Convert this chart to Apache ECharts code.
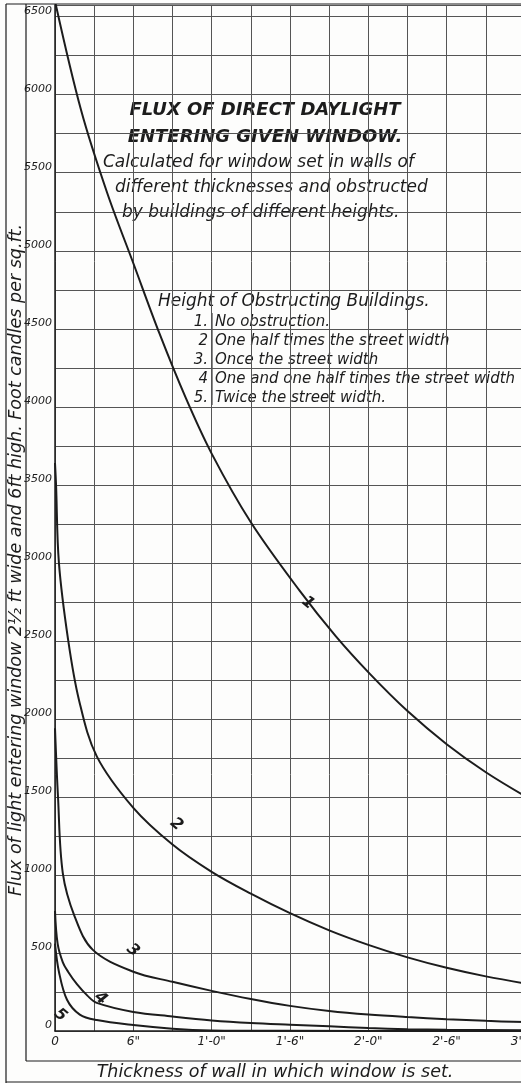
<!DOCTYPE html>
<html>
<head>
<meta charset="utf-8">
<script src="https://cdn.jsdelivr.net/npm/echarts@6/dist/echarts.min.js"></script>
<style>
  html, body { margin: 0; padding: 0; background: #fdfdfc; overflow: hidden; }
  #chart { width: 530px; height: 1083px; }
</style>
</head>
<body>
<div id="chart"></div>
<script>
// wall thickness (inches) , flux (foot candles per sq.ft.)
const curve1 = [[0, 6600], [2, 5900], [4, 5370], [6, 4920], [8, 4470], [10, 4060], [12, 3700], [15, 3260], [18.75, 2820], [21.5, 2530], [24.1, 2290], [27, 2050], [30, 1838], [33, 1658], [36, 1505]];
const curve2 = [[0, 3640], [0.08, 3500], [0.3, 3000], [1.0, 2510], [1.84, 2120], [3.2, 1760], [6, 1430], [9, 1195], [12, 1020], [15, 880], [18, 755], [21, 645], [24, 552], [27, 472], [30, 405], [33, 350], [36, 305]];
const curve3 = [[0, 1940], [0.23, 1500], [0.6, 1010], [1.5, 735], [2.9, 520], [6, 380], [9, 315], [12, 257], [15, 205], [18, 161], [21, 128], [24, 105], [27, 89], [30, 76], [33, 65], [36, 57]];
const curve4 = [[0, 770], [0.2, 560], [0.6, 440], [1.0, 380], [1.68, 300], [2.5, 225], [3.2, 180], [6, 122], [9, 93], [12, 68], [15, 51], [18, 40], [21, 30], [24, 19], [27, 12], [30, 8], [36, 5]];
const curve5 = [[0, 560], [0.3, 380], [0.92, 200], [1.9, 105], [3.2, 70], [6, 38], [9, 15], [12, 4], [18, 1], [36, 0]];
const curveNames = ['1', '2', '3', '4', '5'];
const labelAt = [8, 7, 5, 6, 2]; // which point of each curve carries its number

const xTickLabels = { 0: '0', 6: '6"', 12: "1'-0\"", 18: "1'-6\"", 24: "2'-0\"", 30: "2'-6\"", 36: "3'-0\"" };
const legendNums = ['1.', '2', '3.', '4', '5.'];
const legendTexts = ['No obstruction.', 'One half times the street width', 'Once the street width', 'One and one half times the street width', 'Twice the street width.'];
const titleLines = ['FLUX OF DIRECT DAYLIGHT', 'ENTERING GIVEN WINDOW.'];
const noteLines = ['Calculated for window set in walls of', 'different thicknesses and obstructed', 'by buildings of different heights.'];

const FONT = '"DejaVu Sans", sans-serif';
const INK = '#1c1c1c';

const chart = echarts.init(document.getElementById('chart'));

// 曲线上的数字位置微调
const labelOffsets = [[14, 4], [-10, -18], [-14, -16], [0, -6], [5, 16]];

const curves = [curve1, curve2, curve3, curve4, curve5];
const series = curves.map((c, i) => ({
  type: 'line',
  data: c,
  smooth: 0.35,
  symbol: 'none',
  clip: true,
  lineStyle: { color: INK, width: 2 },
  markPoint: {
    symbol: 'circle',
    symbolSize: 1,
    itemStyle: { color: 'rgba(0,0,0,0)' },
    label: {
      show: true,
      position: 'inside',
      formatter: curveNames[i],
      offset: labelOffsets[i],
      rotate: -40,
      fontFamily: FONT,
      fontSize: 16,
      fontStyle: 'italic',
      fontWeight: 'bold',
      color: INK
    },
    data: [{ coord: c[labelAt[i]] }]
  }
}));

// 文字部分
const graphic = [];
const line = (x1, y1, x2, y2, w) => graphic.push({
  type: 'line', shape: { x1, y1, x2, y2 }, style: { stroke: INK, lineWidth: w || 1.2 }, silent: true
});
// frame
line(6, 4, 6, 1083);
line(26, 4, 26, 1061);
line(6, 4, 530, 4);
line(26, 1061, 530, 1061);
line(6, 1082, 530, 1082);

const text = (t, x, y, size, opts) => graphic.push(Object.assign({
  type: 'text', x, y, silent: true,
  style: Object.assign({
    text: t, fontFamily: FONT, fontSize: size, fontStyle: 'italic', fill: INK,
    textAlign: 'left', textVerticalAlign: 'middle'
  }, (opts && opts.style) || {})
}, (opts && opts.el) || {}));

titleLines.forEach((t, i) => text(t, 265, 110 + i * 27, 18, { style: { textAlign: 'center', fontWeight: 'bold' } }));
noteLines.forEach((t, i) => text(t, [103, 115, 122][i], 163 + i * 25, 17));

text('Height of Obstructing Buildings.', 158, 302, 17);
legendNums.forEach((t, i) => text(t, 208, 322 + i * 19, 15, { style: { textAlign: 'right' } }));
legendTexts.forEach((t, i) => text(t, 215, 322 + i * 19, 15));
line(212, 313, 212, 405, 1);

text('Thickness of wall in which window is set.', 275, 1072, 17.5, { style: { textAlign: 'center' } });
text('Flux of light entering window 2\u00BD ft wide and 6ft high. Foot candles per sq.ft.', 0, 0, 17.5,
  { style: { textAlign: 'center' }, el: { x: 16, y: 560, rotation: Math.PI / 2 } });

const option = {
  backgroundColor: '#fdfdfc',
  animation: false,
  grid: { left: 55, right: 5, top: 5, bottom: 52, outerBoundsMode: 'none', containLabel: false },
  xAxis: {
    type: 'value', min: 0, max: 36, interval: 3,
    axisLine: { lineStyle: { color: INK, width: 1.5 } },
    axisTick: { show: false },
    splitLine: { show: true, lineStyle: { color: '#555', width: 1 } },
    axisLabel: {
      formatter: v => xTickLabels[v] || '',
      fontFamily: FONT, fontStyle: 'italic', fontSize: 12, color: INK, margin: 5,
      showMaxLabel: true, showMinLabel: true, hideOverlap: false
    }
  },
  yAxis: {
    type: 'value', min: 0, max: 6575, interval: 250,
    axisLine: { show: true, lineStyle: { color: INK, width: 1.5 } },
    axisTick: { show: false },
    splitLine: { show: true, lineStyle: { color: '#555', width: 1 } },
    axisLabel: {
      formatter: v => (v % 500 === 0 ? String(v) : ''),
      fontFamily: FONT, fontStyle: 'italic', fontSize: 11, color: INK, margin: 3,
      verticalAlign: 'bottom'
    }
  },
  graphic: graphic,
  series: series
};

chart.setOption(option);
</script>
</body>
</html>
